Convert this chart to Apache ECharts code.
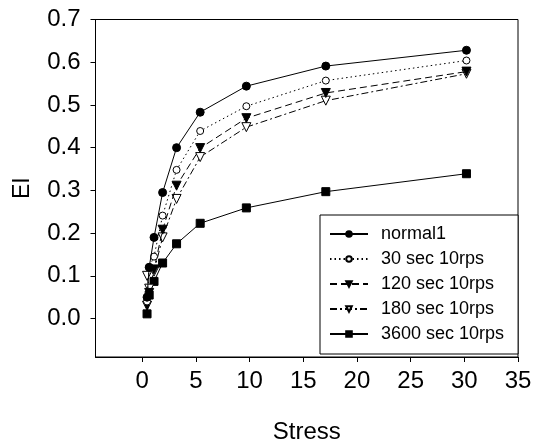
<!DOCTYPE html>
<html>
<head>
<meta charset="utf-8">
<script src="https://cdn.jsdelivr.net/npm/echarts@6/dist/echarts.min.js"></script>
<style>html,body{margin:0;padding:0;background:#fff}#c{width:541px;height:445px}</style>
</head>
<body>
<div id="c"></div>
<script>
// Data
var stress      = [0.45, 0.65, 1.1, 1.9, 3.2, 5.4, 9.7, 17.1, 30.2];
var normal1     = [0.05, 0.12, 0.19, 0.295, 0.40, 0.483, 0.544, 0.591, 0.628];
var sec30       = [0.04, 0.12, 0.145, 0.241, 0.348, 0.439, 0.497, 0.557, 0.604];
var sec120      = [0.03, 0.06, 0.115, 0.208, 0.311, 0.399, 0.469, 0.528, 0.578];
var sec180      = [0.10, 0.07, 0.11, 0.19, 0.28, 0.378, 0.448, 0.51, 0.573];
var sec3600     = [0.011, 0.055, 0.087, 0.13, 0.175, 0.223, 0.259, 0.297, 0.339];
var seriesNames = ['normal1', '30 sec 10rps', '120 sec 10rps', '180 sec 10rps', '3600 sec 10rps'];
var xTicks      = [0, 5, 10, 15, 20, 25, 30, 35];
var yTicks      = [0, 0.1, 0.2, 0.3, 0.4, 0.5, 0.6, 0.7];

function pts(ys) { return stress.map(function (x, i) { return [x, ys[i]]; }); }

var FONT = '"Liberation Sans", Arial, sans-serif';
var styles = [
  { data: normal1, symbol: 'circle', size: 8, fill: '#000', type: 'solid' },
  { data: sec30, symbol: 'circle', size: 7, fill: '#fff', type: [1.5, 3] },
  { data: sec120, symbol: 'triangle', size: 9, fill: '#000', type: [7, 4], rot: 180 },
  { data: sec180, symbol: 'triangle', size: 9, fill: '#fff', type: [7, 3, 2, 3], rot: 180 },
  { data: sec3600, symbol: 'rect', size: 8, fill: '#000', type: 'solid' }
];

var chart = echarts.init(document.getElementById('c'), null, { renderer: 'canvas' });
chart.setOption({
  backgroundColor: '#fff',
  animation: false,
  textStyle: { fontFamily: FONT, color: '#000' },
  grid: { left: 95.5, top: 19.5, right: 23, bottom: 88, show: true, borderColor: '#000', borderWidth: 1,
    backgroundColor: 'transparent', outerBoundsMode: 'none', containLabel: false },
  legend: {
    orient: 'vertical',
    left: 320, top: 215,
    data: seriesNames,
    itemWidth: 38, itemHeight: 7, itemGap: 7,
    padding: [10, 14, 11, 9],
    borderColor: '#000', borderWidth: 1,
    backgroundColor: '#fff',
    textStyle: { fontFamily: FONT, fontSize: 18, color: '#000', lineHeight: 18, padding: [0, 0, 0, 8] }
  },
  xAxis: {
    type: 'value', min: -4.35, max: 35,
    name: 'Stress', nameLocation: 'middle', nameGap: 63,
    nameTextStyle: { fontFamily: FONT, fontSize: 24, color: '#000' },
    axisLine: { onZero: false, lineStyle: { color: '#000', width: 1 } },
    axisTick: { show: true, inside: false, length: 5, customValues: xTicks, lineStyle: { color: '#000' } },
    axisLabel: { customValues: xTicks, margin: 12, fontSize: 24, color: '#000', fontFamily: FONT },
    splitLine: { show: false }
  },
  yAxis: {
    type: 'value', min: -0.09, max: 0.7,
    name: 'EI', nameLocation: 'middle', nameGap: 61,
    nameTextStyle: { fontFamily: FONT, fontSize: 23, color: '#000' },
    axisLine: { onZero: false, lineStyle: { color: '#000', width: 1 } },
    axisTick: { show: true, inside: false, length: 5, customValues: yTicks, lineStyle: { color: '#000' } },
    axisLabel: { customValues: yTicks, margin: 15, fontSize: 24, color: '#000', fontFamily: FONT,
      formatter: function (v) { return v.toFixed(1); } },
    splitLine: { show: false }
  },
  series: styles.map(function (s, i) {
    return {
      name: seriesNames[i], type: 'line',
      data: pts(s.data),
      symbol: s.symbol, symbolSize: s.size, symbolRotate: s.rot || 0,
      showAllSymbol: true,
      itemStyle: { color: s.fill, borderColor: '#000', borderWidth: 1 },
      lineStyle: { color: '#000', width: 1, type: s.type },
      z: 10 - i
    };
  })
});
</script>
</body>
</html>
